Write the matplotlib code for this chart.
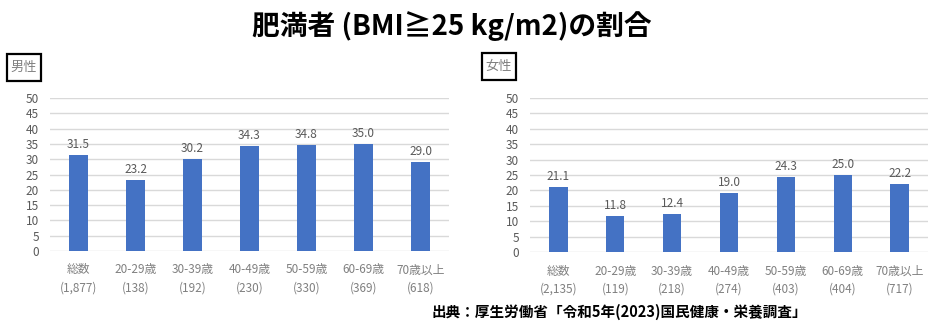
import matplotlib.pyplot as plt
from matplotlib.patches import Rectangle
import numpy as np

plt.rcParams['font.family'] = ['Noto Sans CJK JP', 'DejaVu Sans']

# data
categories = ['総数', '20-29歳', '30-39歳', '40-49歳', '50-59歳', '60-69歳', '70歳以上']
men_n = ['(1,877)', '(138)', '(192)', '(230)', '(330)', '(369)', '(618)']
women_n = ['(2,135)', '(119)', '(218)', '(274)', '(403)', '(404)', '(717)']
men_vals = [31.5, 23.2, 30.2, 34.3, 34.8, 35.0, 29.0]
women_vals = [21.1, 11.8, 12.4, 19.0, 24.3, 25.0, 22.2]

W, H = 931, 334
fig = plt.figure(figsize=(W / 100, H / 100), dpi=100)

def px_axes(x0, x1, y_top, y_bot):
    return fig.add_axes([x0 / W, 1 - y_bot / H, (x1 - x0) / W, (y_bot - y_top) / H])

def panel(ax, vals, counts):
    x = np.arange(len(vals))
    ax.bar(x, vals, width=0.32, color='#4472c4', zorder=3)
    for xi, v in zip(x, vals):
        ax.text(xi, v + 1.3, f'{v:.1f}', ha='center', va='bottom',
                fontsize=8.5, color='#595959')
    ax.set_xlim(-0.5, len(vals) - 0.5)
    ax.set_ylim(0, 50)
    ax.set_yticks(np.arange(0, 51, 5))
    ax.grid(axis='y', color='#d9d9d9', linewidth=1, zorder=0)
    for s in ax.spines.values():
        s.set_visible(False)
    ax.tick_params(axis='y', length=0, labelsize=8.5, labelcolor='#595959', pad=8)
    ax.set_xticks(x)
    ax.set_xticklabels([f'{c}\n{n}' for c, n in zip(categories, counts)],
                       fontsize=8.5, color='#808080', linespacing=1.55)
    ax.tick_params(axis='x', length=0, pad=9)

ax1 = px_axes(50, 449, 98, 251)
panel(ax1, men_vals, men_n)
ax2 = px_axes(530, 928, 98, 252)
panel(ax2, women_vals, women_n)

# boxed panel labels
for x0, y0, lab in [(7, 54, '男性'), (482, 53, '女性')]:
    fig.patches.append(Rectangle((x0 / W, 1 - (y0 + 27) / H), 34 / W, 27 / H,
                                 transform=fig.transFigure, fill=False,
                                 edgecolor='#000000', linewidth=1.6))
    fig.text((x0 + 17) / W, 1 - (y0 + 13.5) / H, lab, ha='center', va='center',
             fontsize=9.5, color='#808080')

fig.text(452 / W, 1 - 26 / H, '肥満者 (BMI≧25 kg/m2)の割合', ha='center', va='center',
         fontsize=20, fontweight='bold')
fig.text(432 / W, 1 - 312 / H, '出典：厚生労働省「令和5年(2023)国民健康・栄養調査」',
         ha='left', va='center', fontsize=10.5, fontweight='bold')

fig.savefig('out.png', dpi=100)
